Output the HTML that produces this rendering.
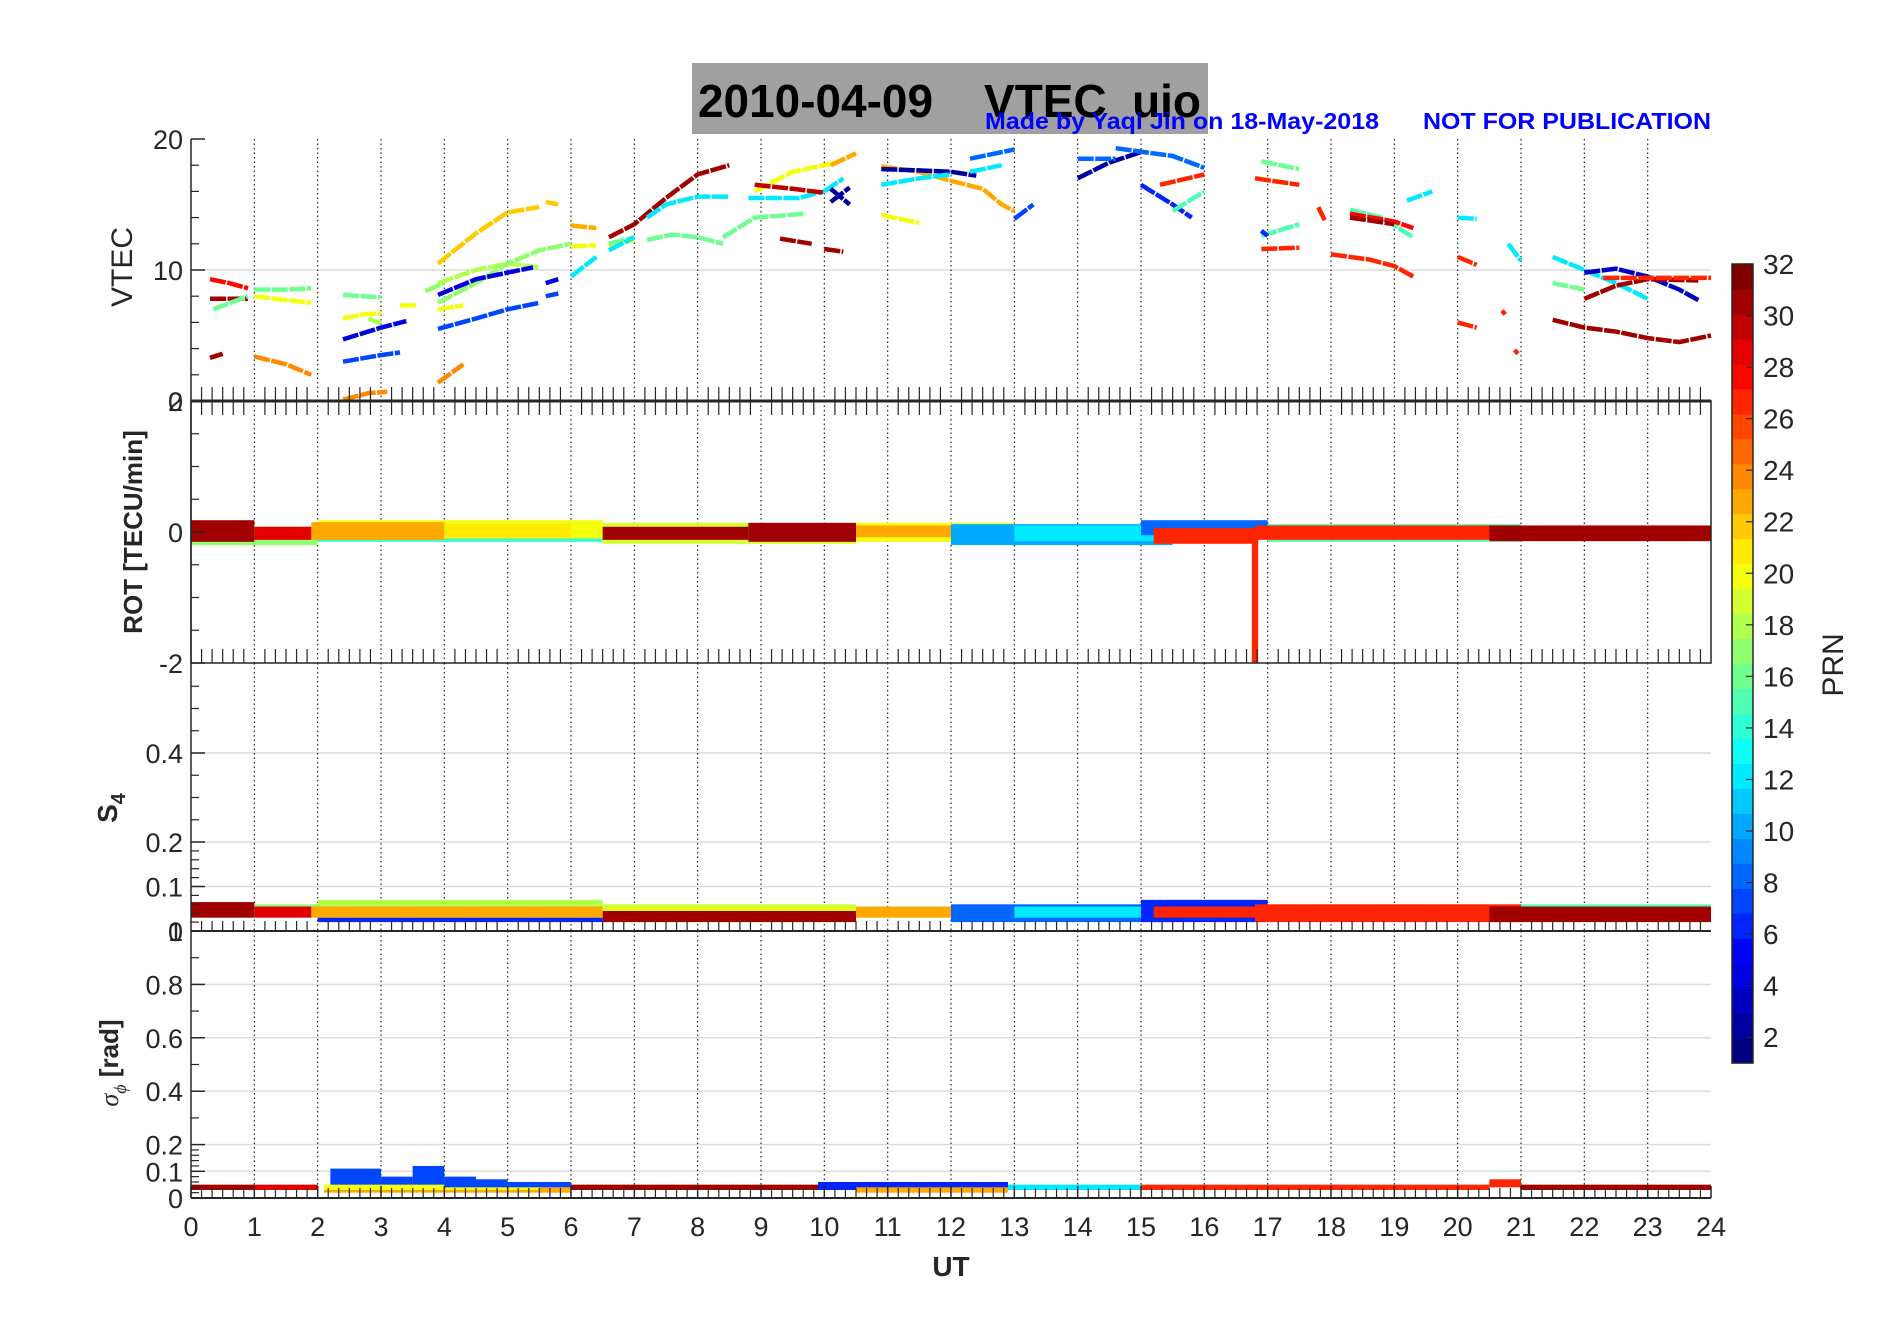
<!DOCTYPE html>
<html><head><meta charset="utf-8"><title>2010-04-09 VTEC uio</title>
<style>
html,body{margin:0;padding:0;background:#fff;}
svg{display:block;font-family:"Liberation Sans",Arial,sans-serif;}
</style></head>
<body>
<svg id="chart" width="1902" height="1330" viewBox="0 0 1902 1330" xmlns="http://www.w3.org/2000/svg">
<rect x="0" y="0" width="1902" height="1330" fill="#fff"/>
<g id="grid"></g>
<g id="marks"></g>
<g id="axes"></g>
<rect x="692" y="63" width="516" height="71" fill="#a0a0a0"/>
<text x="698" y="117" font-size="46" font-weight="bold" fill="#000" textLength="503" lengthAdjust="spacingAndGlyphs" xml:space="preserve">2010-04-09    VTEC  uio</text>
<text x="985" y="129" font-size="23" font-weight="bold" fill="#0000ff" textLength="394" lengthAdjust="spacingAndGlyphs">Made by Yaqi Jin on 18-May-2018</text>
<text x="1423" y="129" font-size="23" font-weight="bold" fill="#0000ff" textLength="288" lengthAdjust="spacingAndGlyphs">NOT FOR PUBLICATION</text>
<g id="cbar"></g>
</svg>
<script>
// ---------- data ----------
const hourTicks = [0,1,2,3,4,5,6,7,8,9,10,11,12,13,14,15,16,17,18,19,20,21,22,23,24];
const vtecTicks = [0,10,20];
const rotTicks = [-2,0,2];
const s4Ticks = [0,0.1,0.2,0.4];
const sigTicks = [0,0.1,0.2,0.4,0.6,0.8,1];
const cbarTicks = [2,4,6,8,10,12,14,16,18,20,22,24,26,28,30,32];

// VTEC arcs: PRN and [hour, vtec] points
const arcPrn = [28,31,31,16,20,24, 16,20,4,7,24,18,16,20,17,20, 22,22,18,17,4,4,7,7,24,20,
  12,23,20,16,12,31,12,12,16,16,20,30,31,31,23,12,2,2,23,2,12,12,20,8,7,
  2,8,8,6,15,27, 27,16,27,15,6,27,27,15,28,31,12, 12,27,27,12,27,27,
  12,31,3,16,31,27];
const arcPts = [
 [[0.3,9.3],[0.6,9.0],[0.9,8.6]],
 [[0.3,7.8],[0.9,7.8]],
 [[0.3,3.3],[0.5,3.6]],
 [[0.35,7.0],[0.9,8.0]],
 [[1.0,8.0],[1.5,7.7],[1.9,7.5]],
 [[1.0,3.4],[1.5,2.8],[1.9,2.0]],
 [[1.0,8.5],[1.5,8.5],[1.9,8.6]],
 [[2.4,6.3],[2.7,6.6],[3.0,6.7]],
 [[2.4,4.7],[3.0,5.6],[3.4,6.1]],
 [[2.4,3.0],[3.0,3.5],[3.3,3.7]],
 [[2.4,0.1],[2.8,0.6],[3.1,0.7]],
 [[2.8,6.3],[3.0,5.9]],
 [[2.4,8.1],[3.0,7.9]],
 [[3.3,7.3],[3.55,7.3]],
 [[3.7,8.4],[4.0,9.0]],
 [[3.9,7.0],[4.3,7.3]],
 [[3.9,10.5],[4.5,12.8],[5.0,14.4],[5.5,14.8]],
 [[5.6,15.2],[5.8,15.0]],
 [[3.9,9.0],[4.5,10.0],[5.0,10.5],[5.5,10.2]],
 [[3.9,7.5],[4.5,9.0],[5.0,10.5],[5.5,11.5],[6.0,12.0]],
 [[3.9,8.1],[4.5,9.3],[5.0,9.8],[5.4,10.2]],
 [[5.6,9.0],[5.8,9.3]],
 [[3.9,5.5],[4.5,6.3],[5.0,7.0],[5.5,7.5]],
 [[5.6,8.0],[5.8,8.2]],
 [[3.9,1.4],[4.3,2.8]],
 [[6.0,11.8],[6.4,11.9]],
 [[6.0,9.5],[6.4,11.0]],
 [[6.0,13.4],[6.4,13.2]],
 [[6.6,11.8],[7.0,12.3]],
 [[6.6,12.0],[7.0,12.5]],
 [[6.6,11.5],[7.0,12.5]],
 [[6.6,12.5],[7.0,13.5],[7.5,15.5],[8.0,17.3],[8.5,18.0]],
 [[7.2,14.0],[7.5,15.0],[8.0,15.6],[8.5,15.6]],
 [[8.8,15.5],[9.6,15.5],[10.0,16.0]],
 [[7.2,12.3],[7.6,12.7],[8.0,12.5],[8.4,12.0]],
 [[8.4,12.5],[8.9,14.0],[9.7,14.3]],
 [[8.9,16.0],[9.5,17.5],[10.2,18.2]],
 [[8.9,16.5],[9.5,16.2],[10.0,15.9]],
 [[9.3,12.4],[9.8,12.0]],
 [[10.0,11.6],[10.3,11.4]],
 [[10.1,18.0],[10.5,18.9]],
 [[10.0,16.0],[10.3,17.0]],
 [[10.1,16.2],[10.4,15.0]],
 [[10.1,15.2],[10.4,16.3]],
 [[10.9,17.9],[11.5,17.5],[12.0,16.8],[12.5,16.2],[12.8,15.0],[13.0,14.5]],
 [[10.9,17.7],[11.5,17.6],[12.0,17.5],[12.4,17.2]],
 [[10.9,16.5],[11.5,17.0],[12.0,17.3]],
 [[12.3,17.5],[12.8,18.0]],
 [[10.9,14.2],[11.5,13.6]],
 [[12.3,18.5],[13.0,19.2]],
 [[13.0,13.9],[13.3,15.0]],
 [[14.0,17.0],[14.5,18.2],[15.0,19.0]],
 [[14.0,18.5],[14.6,18.5]],
 [[14.6,19.3],[15.5,18.7],[16.0,17.8]],
 [[15.0,16.5],[15.5,15.0],[15.8,14.0]],
 [[15.5,14.5],[16.0,16.0]],
 [[15.3,16.5],[16.0,17.3]],
 [[16.8,17.0],[17.5,16.5]],
 [[16.9,18.3],[17.5,17.7]],
 [[16.9,11.6],[17.5,11.7]],
 [[16.9,12.6],[17.5,13.5]],
 [[16.9,13.0],[17.0,12.6]],
 [[18.0,11.2],[18.6,10.8],[19.0,10.3],[19.3,9.5]],
 [[17.8,14.8],[17.9,13.8]],
 [[18.3,14.6],[18.8,14.0],[19.3,12.5]],
 [[18.3,14.3],[19.0,13.7],[19.3,13.2]],
 [[18.3,14.0],[19.0,13.5]],
 [[19.2,15.3],[19.6,16.0]],
 [[20.0,14.0],[20.3,13.9]],
 [[20.0,11.0],[20.3,10.4]],
 [[20.0,6.0],[20.3,5.6]],
 [[20.8,12.0],[21.0,10.7]],
 [[20.7,6.9],[20.75,6.6]],
 [[20.9,3.9],[20.95,3.6]],
 [[21.5,11.0],[22.0,10.0],[22.5,9.0],[23.0,7.8]],
 [[21.5,6.2],[22.0,5.6],[22.5,5.3],[23.0,4.8],[23.5,4.5],[24.0,5.0]],
 [[22.0,9.8],[22.5,10.1],[23.0,9.5],[23.5,8.5],[23.8,7.7]],
 [[21.5,9.0],[22.0,8.5]],
 [[22.0,7.8],[22.5,8.8],[23.0,9.3],[23.8,9.2]],
 [[22.3,9.4],[24.0,9.4]]
];

// ROT bands: start hour, end hour, PRN, low, high (TECU/min)
const rotStart = [0,2,2,0,1,1.9,4,6.5,6.5,8.8,10.5,10.5,12,13,15,15.2,17,16.8,21,20.5,16.75];
const rotEnd   = [2,6.5,6.5,1,1.9,4,6,10.5,8.8,10.5,13,13,15.5,15.5,17,16.8,21,21,24,24,16.85];
const rotPrn   = [17,14,20,31,29,23,21,19,31,31,20,23,10,12,8,27,15,27,14,31,27];
const rotLo    = [-0.2,-0.15,-0.1,-0.15,-0.12,-0.12,-0.1,-0.18,-0.12,-0.15,-0.15,-0.08,-0.2,-0.14,-0.05,-0.18,-0.15,-0.12,-0.08,-0.14,-2.0];
const rotHi    = [0.08,0.15,0.18,0.18,0.08,0.15,0.12,0.14,0.08,0.14,0.14,0.1,0.12,0.1,0.18,0.06,0.12,0.1,0.06,0.1,0.0];

// S4 bands
const s4Start = [0,2,2,0,1,1.9,6.5,6.5,10.5,12,13,15,15.2,17,16.8,21,20.5];
const s4End   = [2,6.5,6.5,1,1.9,6.5,10.5,10.5,13,15.5,15.5,17,16.8,21,21,24,24];
const s4Prn   = [17,6,18,31,29,23,19,31,23,8,12,6,27,16,27,15,31];
const s4Lo    = [0.03,0.02,0.03,0.03,0.03,0.03,0.02,0.02,0.03,0.02,0.03,0.02,0.03,0.03,0.02,0.03,0.02];
const s4Hi    = [0.06,0.045,0.07,0.065,0.055,0.055,0.06,0.045,0.055,0.06,0.055,0.07,0.055,0.055,0.06,0.06,0.055];

// Sigma-phi bands
const sgStart = [0,1,2.1,2.1,2.2,3.0,3.5,4.0,4.5,5.0,6,9.9,10.5,12.9,15,17,20.5,21];
const sgEnd   = [1,2,6,5.5,3.0,3.5,4.0,4.5,5.0,6.0,9.9,12.9,12.9,15,17,20.5,21,24];
const sgPrn   = [31,29,23,20,7,7,7,7,7,7,31,6,23,12,27,27,27,31];
const sgLo    = [0.03,0.03,0.02,0.03,0.05,0.05,0.05,0.04,0.04,0.04,0.03,0.03,0.02,0.03,0.03,0.03,0.04,0.03];
const sgHi    = [0.05,0.05,0.04,0.05,0.11,0.08,0.12,0.08,0.07,0.06,0.05,0.06,0.04,0.05,0.05,0.05,0.07,0.05];

// ---------- geometry ----------
const X0=191, X1=1711;
const xs = h => X0 + (X1-X0)*h/24;
const yV = v => 401 - v*13.1;
const yR = v => 532 - v*65.5;
const yS = v => 931 - v*445;
const yG = v => 1198 - v*267;
const NS="http://www.w3.org/2000/svg";
function jet(p){
  const x=(p-1)/31;
  const c=t=>Math.round(255*Math.max(0,Math.min(1,1.5-Math.abs(4*x-t))));
  return `rgb(${c(3)},${c(2)},${c(1)})`;
}
function mk(tag,attrs,parent){
  const e=document.createElementNS(NS,tag);
  for(const k in attrs) e.setAttribute(k,attrs[k]);
  parent.appendChild(e); return e;
}
const grid=document.getElementById('grid'), marks=document.getElementById('marks'), axes=document.getElementById('axes');

const panels=[
 {name:'vtec',top:139,bot:401,ys:yV,ticks:vtecTicks,minor:[2,4,6,8,12,14,16,18],lab:v=>String(v)},
 {name:'rot',top:401,bot:663,ys:yR,ticks:rotTicks,minor:[-1.5,-1,-0.5,0.5,1,1.5],lab:v=>String(v)},
 {name:'s4',top:663,bot:931,ys:yS,ticks:s4Ticks,minor:[0.02,0.04,0.06,0.08,0.12,0.14,0.16,0.18,0.25,0.3,0.35,0.45,0.5,0.55],lab:v=>String(v)},
 {name:'sigma',top:931,bot:1198,ys:yG,ticks:sigTicks,minor:[0.02,0.04,0.06,0.08,0.12,0.14,0.16,0.18,0.3,0.5,0.7,0.9],lab:v=>String(v)}
];
panels.forEach(p=>{
  p.ticks.forEach(v=>{
    const y=p.ys(v);
    if(y>p.top+1 && y<p.bot-1){
      const g=mk('line',{x1:X0,x2:X1,y1:y,y2:y,stroke:'#dcdcdc','stroke-width':1.5},grid);
      
      
    }
    const t=mk('line',{x1:X0,x2:X0+14,y1:y,y2:y,stroke:'#262626','stroke-width':1.5},axes);
    
    
    const tx=mk('text',{x:X0-8,y:y+10,'font-size':27,'text-anchor':'end',fill:'#262626'},axes);
    tx.textContent=p.lab(v);
    
    
  });
  p.minor.forEach(v=>{
    const y=p.ys(v);
    const t=mk('line',{x1:X0,x2:X0+8,y1:y,y2:y,stroke:'#262626','stroke-width':1.2},axes);
    
    
  });
  hourTicks.forEach(h=>{
    if(h===0||h===24) return;
    const l=mk('line',{x1:xs(h),x2:xs(h),y1:p.top,y2:p.bot,stroke:'#222','stroke-width':1.2,'stroke-dasharray':'1.5,3'},grid);
    
    
  });
  const ax=mk('line',{x1:X0,x2:X0,y1:p.top,y2:p.bot,stroke:'#262626','stroke-width':1.5},axes);
  
  
});
// ROT box and ticks
const rb=mk('rect',{x:X0,y:401,width:X1-X0,height:262,fill:'none',stroke:'#262626','stroke-width':1.5},axes);


for(let i=0;i<=144;i++){
  if(i%6===0) continue;
  const x=xs(i/6);
  const a=mk('line',{x1:x,x2:x,y1:387,y2:415,stroke:'#262626','stroke-width':1.2},axes);
  
  
  const b=mk('line',{x1:x,x2:x,y1:649,y2:663,stroke:'#262626','stroke-width':1.2},axes);
  
  
}
const vb=mk('line',{x1:X0,x2:X1,y1:401,y2:401,stroke:'#262626','stroke-width':3},axes);


for(let i=0;i<=144;i++){
  if(i%6===0) continue;
  const x=xs(i/6);
  const a=mk('line',{x1:x,x2:x,y1:921,y2:931,stroke:'#262626','stroke-width':1.2},axes);
  
  
  const b=mk('line',{x1:x,x2:x,y1:1188,y2:1198,stroke:'#262626','stroke-width':1.2},axes);
  
  
}
[931,1198].forEach(y=>{
  const l=mk('line',{x1:X0,x2:X1,y1:y,y2:y,stroke:'#262626','stroke-width':2},axes);
  
  
});
hourTicks.forEach(h=>{
  const t=mk('text',{x:xs(h),y:1236,'font-size':27,'text-anchor':'middle',fill:'#262626'},axes);
  t.textContent=String(h);
  
  
  const k=mk('line',{x1:xs(h),x2:xs(h),y1:1186,y2:1198,stroke:'#262626','stroke-width':1.5},axes);
  
  
});
function label(txt,x,y,rot,size,bold,name){
  const t=mk('text',{x:x,y:y,'font-size':size,'text-anchor':'middle',fill:'#262626','font-weight':bold?'bold':'normal',transform:rot?`rotate(-90 ${x} ${y})`:''},axes);
  t.textContent=txt;
  
  
  return t;
}
label('UT',951,1276,false,28,true,'x-axis-title');
label('VTEC',132,267,true,30,false,'vtec-axis-title');
label('ROT [TECU/min]',142,532,true,26,true,'rot-axis-title');
const s4l=label('S',117,808,true,28,true,'s4-axis-title');
const sub=mk('tspan',{'font-size':20,dy:8},s4l); sub.textContent='4';
const sgl=label('',118,1063,true,26,true,'sigma-axis-title');
const sg1=mk('tspan',{'font-style':'italic','font-weight':'normal','font-family':'"Liberation Serif",serif'},sgl); sg1.textContent='σ';
const sg2=mk('tspan',{'font-style':'italic','font-weight':'normal','font-size':18,dy:8,'font-family':'"Liberation Serif",serif'},sgl); sg2.textContent='ϕ';
const sg3=mk('tspan',{dy:-8},sgl); sg3.textContent=' [rad]';

// ---------- marks ----------
arcPts.forEach((pts,i)=>{
  const d=pts.map((p,j)=>(j?'L':'M')+xs(p[0]).toFixed(1)+' '+yV(p[1]).toFixed(1)).join(' ');
  const e=mk('path',{d:d,fill:'none',stroke:jet(arcPrn[i]),'stroke-width':4.5,'stroke-linecap':'butt','stroke-dasharray':'16,1.5'},marks);
  
  
});
function bands(st,en,prn,lo,hi,ys,name){
  st.forEach((s,i)=>{
    const x=xs(s), w=Math.max(4,xs(en[i])-x);
    const y1=ys(hi[i]), y2=ys(lo[i]);
    const r=mk('rect',{x:x,y:y1,width:w,height:Math.max(3,y2-y1),fill:jet(prn[i])},marks);
    
    
  });
}
bands(rotStart,rotEnd,rotPrn,rotLo,rotHi,yR,'rot');
bands(s4Start,s4End,s4Prn,s4Lo,s4Hi,yS,'s4');
bands(sgStart,sgEnd,sgPrn,sgLo,sgHi,yG,'sigma');

// ---------- colorbar ----------
const cb=document.getElementById('cbar');
const CT=264, CB=1063, CX=1732, CW=21;
for(let p=1;p<=32;p++){
  const h=(CB-CT)/32;
  const r=mk('rect',{x:CX,y:CB-p*h,width:CW,height:h+0.6,fill:jet(p)},cb);
  
  
}
const cbo=mk('rect',{x:CX,y:CT,width:CW,height:CB-CT,fill:'none',stroke:'#262626','stroke-width':1.5},cb);


cbarTicks.forEach(v=>{
  const y=CB-(v-1)/31*(CB-CT);
  const l=mk('line',{x1:CX+CW-7,x2:CX+CW,y1:y,y2:y,stroke:'#262626','stroke-width':1.2},cb);
  
  
  const t=mk('text',{x:1763,y:y+10,'font-size':28,fill:'#262626'},cb);
  t.textContent=String(v);
  
  
});
const prn=mk('text',{x:1843,y:665,'font-size':30,'text-anchor':'middle',fill:'#262626',transform:'rotate(-90 1843 665)'},cb);
prn.textContent='PRN';


</script>
</body></html>
